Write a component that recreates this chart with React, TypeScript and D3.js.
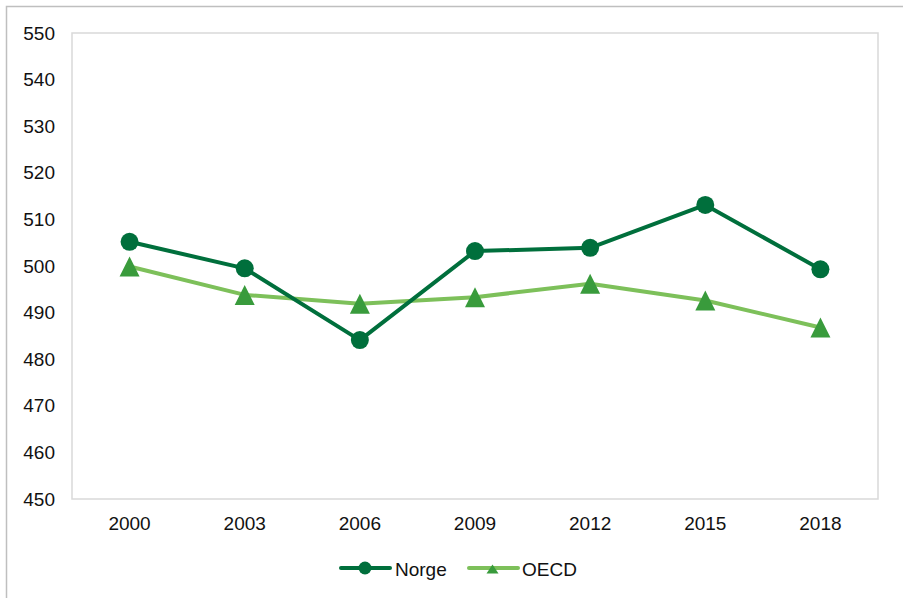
import React from "react";
import * as d3 from "d3";

const years = ["2000", "2003", "2006", "2009", "2012", "2015", "2018"];
const norge = [505.2, 499.5, 484.1, 503.2, 503.9, 513.1, 499.3];
const oecd = [499.9, 493.8, 491.9, 493.3, 496.2, 492.6, 486.8];
const yTicks = [450, 460, 470, 480, 490, 500, 510, 520, 530, 540, 550];

const W = 903;
const H = 598;
const plot = { left: 72, right: 878, top: 33, bottom: 499 };

const NORGE_COLOR = "#006F3C";
const OECD_LINE = "#7DC05A";
const OECD_MARK = "#399B3C";
const TEXT = "#111";
const FONT = "Liberation Sans, Arial, sans-serif";
const FS = 19;

function triangle(cx: number, cy: number, w: number, h: number) {
  return `M${cx},${cy - h / 2} L${cx + w / 2},${cy + h / 2} L${cx - w / 2},${cy + h / 2} Z`;
}

export default function App() {
  const x = d3.scaleBand<string>().domain(years).range([plot.left, plot.right]);
  const cx = (yr: string) => (x(yr) ?? 0) + x.bandwidth() / 2;
  const y = d3.scaleLinear().domain([450, 550]).range([plot.bottom, plot.top]);

  const line = d3
    .line<number>()
    .x((_, i) => cx(years[i]))
    .y((d) => y(d));

  return (
    <svg
      width={W}
      height={H}
      style={{ position: "absolute", left: 0, top: 0, display: "block" }}
      fontFamily={FONT}
    >
      <rect x={0} y={0} width={W} height={H} fill="#fff" />
      {/* outer chart border */}
      <rect x={6.5} y={6.5} width={W + 10} height={H + 10} fill="none" stroke="#BFBFBF" strokeWidth={1.5} />
      {/* plot area border */}
      <rect
        x={plot.left}
        y={plot.top}
        width={plot.right - plot.left}
        height={plot.bottom - plot.top}
        fill="none"
        stroke="#D9D9D9"
        strokeWidth={1.5}
      />
      {yTicks.map((t) => (
        <text key={t} x={55} y={y(t)} textAnchor="end" dominantBaseline="central" fontSize={FS} fill={TEXT}>
          {t}
        </text>
      ))}
      {years.map((yr) => (
        <text key={yr} x={cx(yr)} y={523.5} textAnchor="middle" dominantBaseline="central" fontSize={FS} fill={TEXT}>
          {yr}
        </text>
      ))}
      <path d={line(oecd) ?? ""} fill="none" stroke={OECD_LINE} strokeWidth={4} strokeLinejoin="round" />
      <path d={line(norge) ?? ""} fill="none" stroke={NORGE_COLOR} strokeWidth={4} strokeLinejoin="round" />
      {oecd.map((v, i) => (
        <path key={"o" + i} d={triangle(cx(years[i]), y(v), 20, 20)} fill={OECD_MARK} />
      ))}
      {norge.map((v, i) => (
        <circle key={"n" + i} cx={cx(years[i])} cy={y(v)} r={9} fill={NORGE_COLOR} />
      ))}
      {/* legend */}
      <g>
        <line x1={341} x2={390} y1={568} y2={568} stroke={NORGE_COLOR} strokeWidth={4} strokeLinecap="round" />
        <circle cx={365} cy={568} r={6.5} fill={NORGE_COLOR} />
        <text x={395} y={569} dominantBaseline="central" fontSize={FS} fill={TEXT}>
          Norge
        </text>
        <line x1={469} x2={518} y1={568} y2={568} stroke={OECD_LINE} strokeWidth={4} strokeLinecap="round" />
        <path d={triangle(492.5, 569, 12, 9)} fill={OECD_MARK} />
        <text x={522} y={569} dominantBaseline="central" fontSize={FS} fill={TEXT}>
          OECD
        </text>
      </g>
    </svg>
  );
}
